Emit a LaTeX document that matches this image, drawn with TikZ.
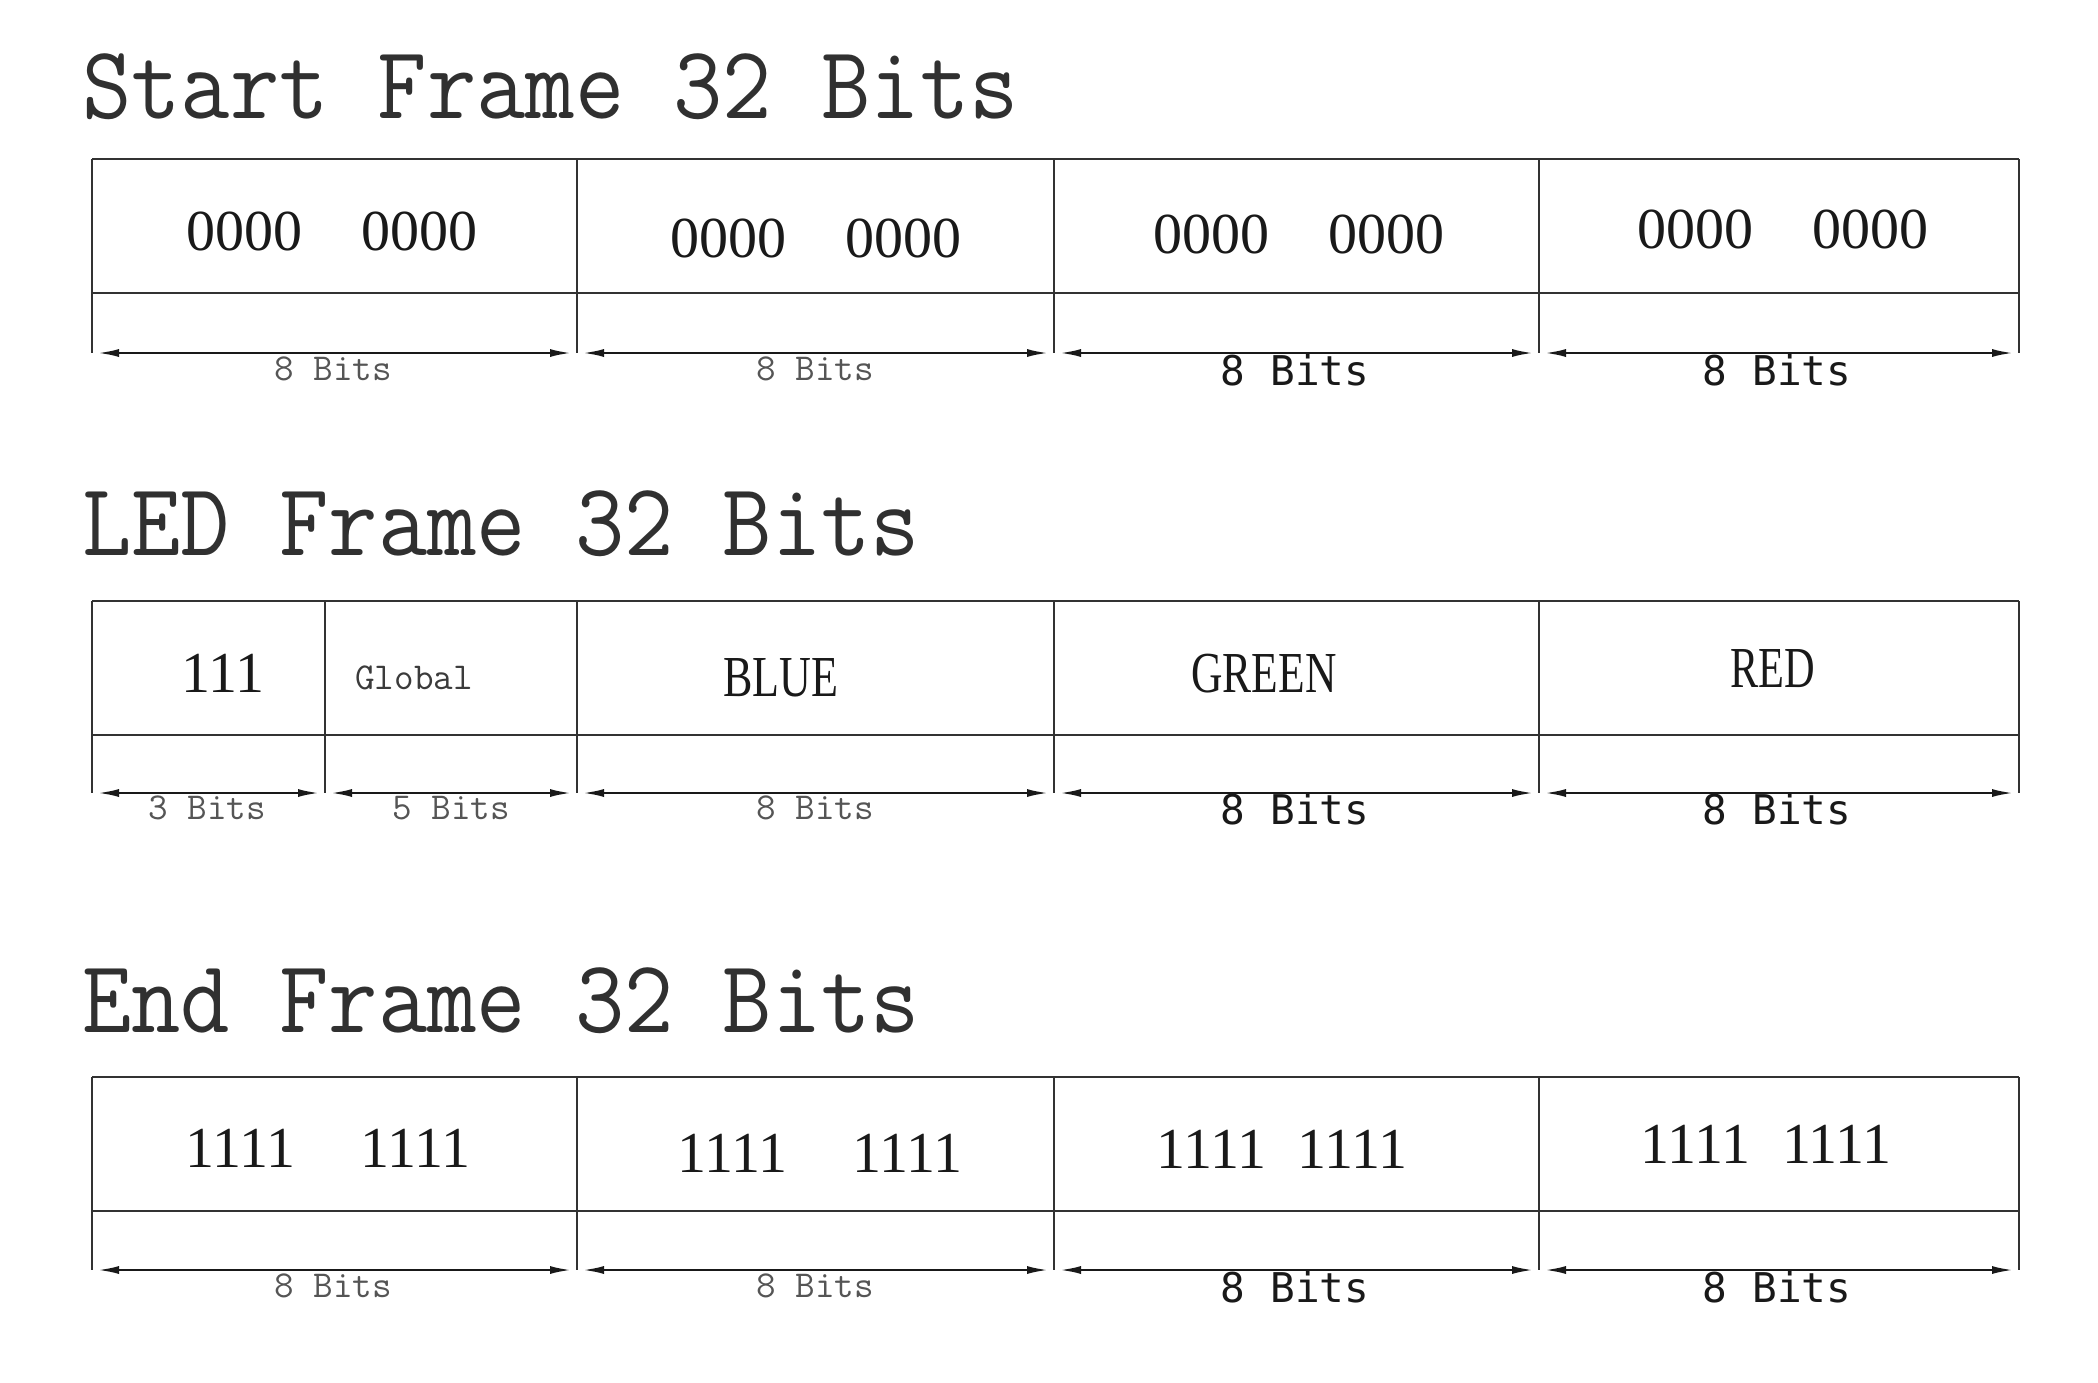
\documentclass[tikz,border=0pt]{standalone}
\usepackage{fontspec}
\usepackage{graphicx}
\usetikzlibrary{arrows.meta}
\newfontfamily\boxserif{Liberation Serif}
\newfontfamily\pixmono{DejaVu Sans Mono}
\definecolor{linegray}{RGB}{50,50,50}
\definecolor{labgray}{RGB}{85,85,85}
\definecolor{inkc}{RGB}{25,25,25}
\begin{document}
\begin{tikzpicture}[x=0.5pt,y=-0.5pt,
  frameline/.style={draw=linegray, line width=1.4pt},
  dimarrow/.style={draw=inkc, line width=1.3pt,
    {Latex[length=11pt,width=4pt]}-{Latex[length=11pt,width=4pt]},
    shorten <=2.5pt, shorten >=2.5pt},
  titletext/.style={anchor=base west, inner sep=0pt, text=inkc!90,
    font=\ttfamily\fontsize{52}{52}\selectfont},
  valtext/.style={inner sep=0pt, text=inkc, font=\boxserif\fontsize{29}{29}\selectfont},
  smalllab/.style={inner sep=0pt, text=labgray, font=\ttfamily\fontsize{19}{19}\selectfont},
  pixlab/.style={inner sep=0pt, text=inkc, font=\pixmono\fontsize{20.5}{20.5}\selectfont},
]
\useasboundingbox (0,0) rectangle (2098,1382);

% ---------- titles ----------
\node[titletext] (t1) at (82,118) {\scalebox{0.92}[1]{Start Frame 32 Bits}};
\node[titletext] (t2) at (82,555) {\scalebox{0.92}[1]{LED Frame 32 Bits}};
\node[titletext] (t3) at (82,1032) {\scalebox{0.92}[1]{End Frame 32 Bits}};

% ---------- Start frame ----------
\foreach \i/\x in {0/92,1/577,2/1054,3/1539,4/2019} {
  \coordinate (St\i) at (\x,159);
  \coordinate (Sm\i) at (\x,293);
  \coordinate (Sb\i) at (\x,353);
}
\draw[frameline] (St0) -- (St4);
\draw[frameline] (Sm0) -- (Sm4);
\foreach \i in {0,...,4} \draw[frameline] (St\i) -- (Sb\i);
\foreach \i/\j in {0/1,1/2,2/3,3/4} \draw[dimarrow] (Sb\i) -- (Sb\j);
\node[valtext] (S1v) at (332,231) {0000\hspace{30pt}0000};
\node[valtext] (S2v) at (816,238) {0000\hspace{30pt}0000};
\node[valtext] (S3v) at (1299,234) {0000\hspace{30pt}0000};
\node[valtext] (S4v) at (1783,229) {0000\hspace{30pt}0000};
\node[smalllab] (S1l) at (333,369) {8 Bits};
\node[smalllab] (S2l) at (815,369) {8 Bits};
\node[pixlab] (S3l) at (1295,370) {8 Bits};
\node[pixlab] (S4l) at (1777,370) {8 Bits};

% ---------- LED frame ----------
\foreach \i/\x in {0/92,1/325,2/577,3/1054,4/1539,5/2019} {
  \coordinate (Lt\i) at (\x,601);
  \coordinate (Lm\i) at (\x,735);
  \coordinate (Lb\i) at (\x,793);
}
\draw[frameline] (Lt0) -- (Lt5);
\draw[frameline] (Lm0) -- (Lm5);
\foreach \i in {0,...,5} \draw[frameline] (Lt\i) -- (Lb\i);
\foreach \i/\j in {0/1,1/2,2/3,3/4,4/5} \draw[dimarrow] (Lb\i) -- (Lb\j);
\node[valtext] (L1v) at (223,673) {111};
\node[smalllab, text=inkc!85] (L2v) at (414,678) {Global};
\node[valtext] (L3v) at (781,678) {\scalebox{0.76}[1]{BLUE}};
\node[valtext] (L4v) at (1264,674) {\scalebox{0.75}[1]{GREEN}};
\node[valtext] (L5v) at (1773,669) {\scalebox{0.73}[1]{RED}};
\node[smalllab] (L1l) at (207,808) {3 Bits};
\node[smalllab] (L2l) at (451,808) {5 Bits};
\node[smalllab] (L3l) at (815,808) {8 Bits};
\node[pixlab] (L4l) at (1295,809) {8 Bits};
\node[pixlab] (L5l) at (1777,809) {8 Bits};

% ---------- End frame ----------
\foreach \i/\x in {0/92,1/577,2/1054,3/1539,4/2019} {
  \coordinate (Et\i) at (\x,1077);
  \coordinate (Em\i) at (\x,1211);
  \coordinate (Eb\i) at (\x,1270);
}
\draw[frameline] (Et0) -- (Et4);
\draw[frameline] (Em0) -- (Em4);
\foreach \i in {0,...,4} \draw[frameline] (Et\i) -- (Eb\i);
\foreach \i/\j in {0/1,1/2,2/3,3/4} \draw[dimarrow] (Eb\i) -- (Eb\j);
\node[valtext] (E1v) at (328,1148) {1111\hspace{33pt}1111};
\node[valtext] (E2v) at (820,1153) {1111\hspace{33pt}1111};
\node[valtext] (E3v) at (1282,1149) {1111\hspace{16pt}1111};
\node[valtext] (E4v) at (1766,1144) {1111\hspace{16pt}1111};
\node[smalllab] (E1l) at (333,1286) {8 Bits};
\node[smalllab] (E2l) at (815,1286) {8 Bits};
\node[pixlab] (E3l) at (1295,1287) {8 Bits};
\node[pixlab] (E4l) at (1777,1287) {8 Bits};
\end{tikzpicture}
\end{document}
